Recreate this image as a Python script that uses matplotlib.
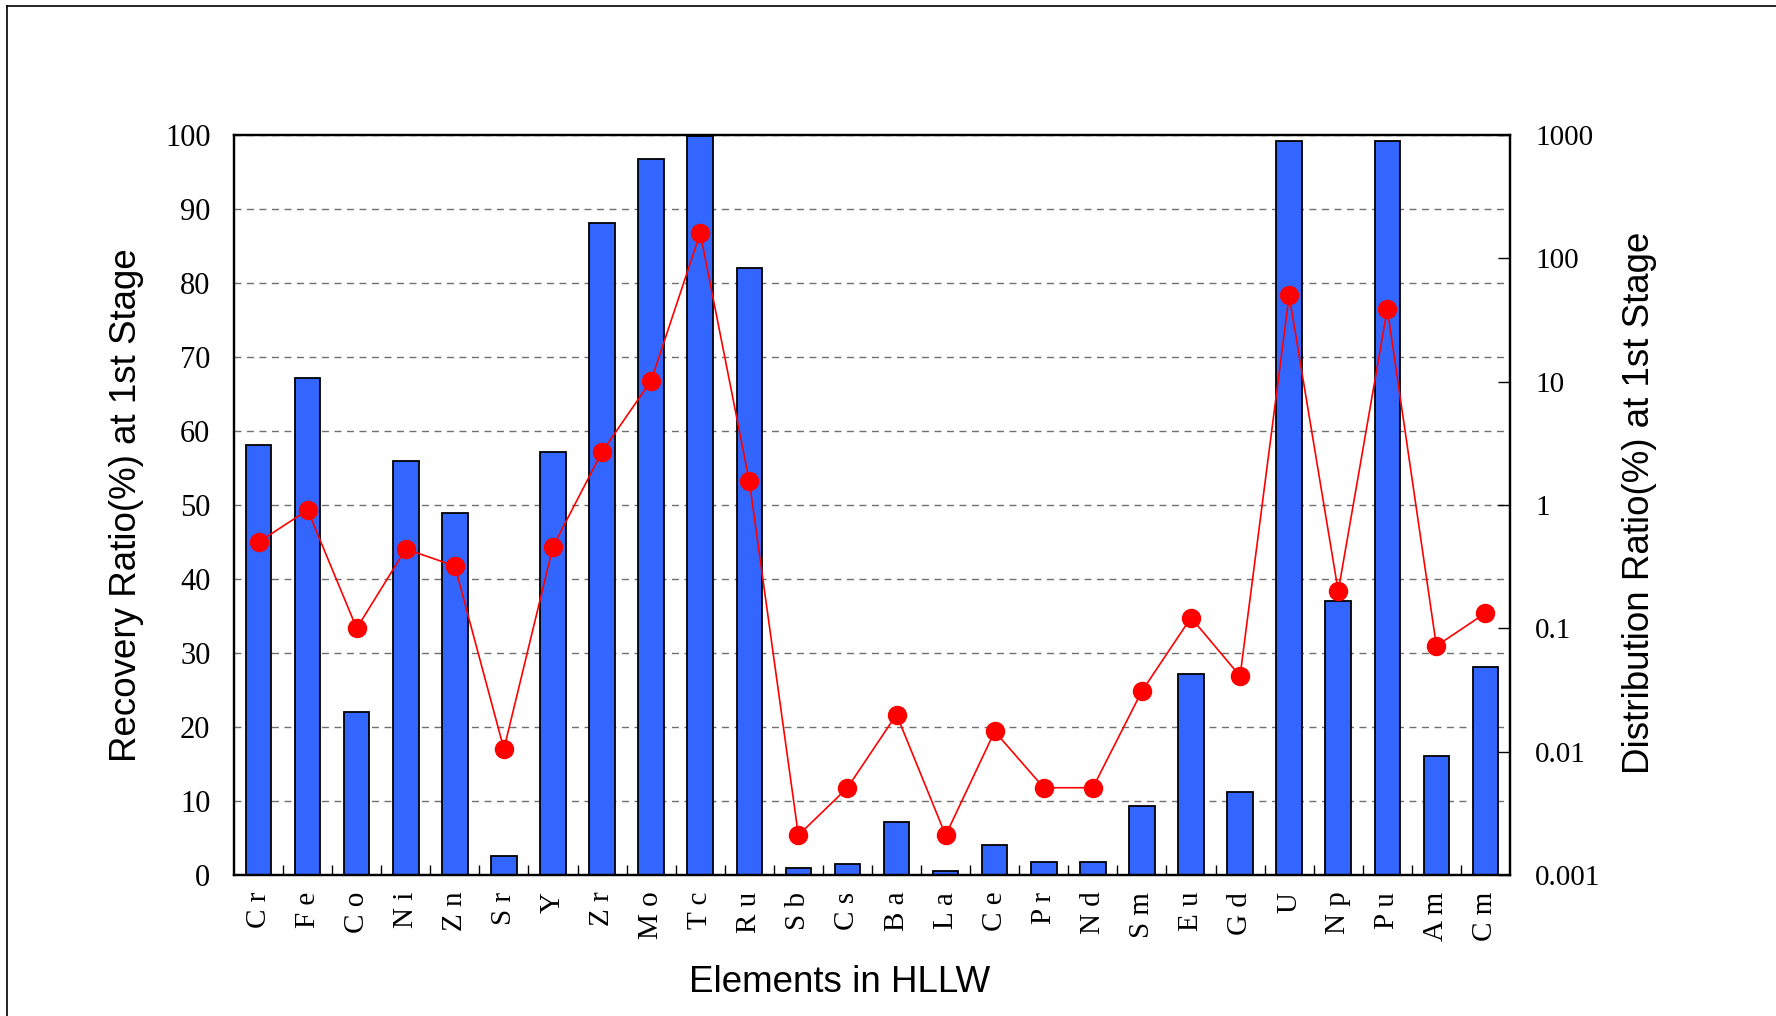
import numpy as np
import matplotlib
matplotlib.use('Agg')
import matplotlib.pyplot as plt
from matplotlib.lines import Line2D
from matplotlib.ticker import FixedLocator, NullLocator

# data
elements = ['Cr', 'Fe', 'Co', 'Ni', 'Zn', 'Sr', 'Y', 'Zr', 'Mo', 'Tc', 'Ru', 'Sb', 'Cs',
            'Ba', 'La', 'Ce', 'Pr', 'Nd', 'Sm', 'Eu', 'Gd', 'U', 'Np', 'Pu', 'Am', 'Cm']
recovery = [58.1, 67.1, 22.0, 56.0, 48.9, 2.6, 57.2, 88.1, 96.8, 99.8, 82.0, 0.9, 1.5,
            7.2, 0.6, 4.0, 1.8, 1.8, 9.3, 27.2, 11.2, 99.2, 37.0, 99.2, 16.1, 28.1]
distribution = [0.50, 0.91, 0.10, 0.44, 0.32, 0.0105, 0.46, 2.7, 10.2, 160, 1.56, 0.0021, 0.0051,
                0.020, 0.0021, 0.0146, 0.0051, 0.0051, 0.031, 0.122, 0.041, 50.0, 0.20, 38.9, 0.072, 0.133]
left_ticks = list(range(0, 101, 10))
right_ticks = [0.001, 0.01, 0.1, 1, 10, 100, 1000]
right_labels = ['0.001', '0.01', '0.1', '1', '10', '100', '1000']

W, H = 1776, 1016
fig = plt.figure(figsize=(W / 100, H / 100), dpi=100)
x0, x1, y0, y1 = 234, 1510, 135, 875
ax = fig.add_axes([x0 / W, 1 - y1 / H, (x1 - x0) / W, (y1 - y0) / H])

x = np.arange(len(elements))
ax.bar(x, recovery, width=0.52, color='#3366FF', edgecolor='black', linewidth=1.3, zorder=2)
ax.set_xlim(-0.5, len(elements) - 0.5)
ax.set_ylim(0, 100)
ax.set_yticks(left_ticks)
ax.set_yticklabels([str(t) for t in left_ticks], family='Liberation Serif', fontsize=22)
ax.set_axisbelow(True)
ax.yaxis.grid(True, linestyle=(0, (5, 4)), color='#707070', linewidth=1.0)
ax.tick_params(axis='y', direction='in', length=0, pad=17)

ax.set_xticks(x)
ax.set_xticklabels([' '.join(e) for e in elements], rotation=90,
                   family='Liberation Serif', fontsize=21)
ax.xaxis.set_minor_locator(FixedLocator(x[:-1] + 0.5))
ax.tick_params(axis='x', which='major', length=0, pad=12)
ax.tick_params(axis='x', which='minor', direction='in', length=7, width=1.0)

for sp in ax.spines.values():
    sp.set_linewidth(1.6)

ax2 = ax.twinx()
ax2.set_yscale('log')
ax2.set_ylim(0.001, 1000)
ax2.plot(x, distribution, color='red', linewidth=1.2, marker='o', markersize=13,
         markeredgecolor='red', markerfacecolor='red')
ax2.yaxis.set_major_locator(FixedLocator(right_ticks))
ax2.yaxis.set_minor_locator(NullLocator())
ax2.set_yticklabels(right_labels, family='Liberation Serif', fontsize=21)
ax2.tick_params(axis='y', direction='in', length=9, width=1.0, pad=18)
for sp in ax2.spines.values():
    sp.set_linewidth(1.6)

fig.text(127 / W, 0.503, 'Recovery Ratio(%) at 1st Stage', rotation=90, ha='center', va='center',
         family='Liberation Sans', fontsize=26.5)
fig.text(1639 / W, 0.505, 'Distribution Ratio(%) at 1st Stage', rotation=90, ha='center', va='center',
         family='Liberation Sans', fontsize=26.5)
fig.text(840 / W, 1 - 983 / H, 'Elements in HLLW', ha='center', va='center',
         family='Liberation Sans', fontsize=26.5)

# outer frame (top and left edges visible in the reference)
fig.add_artist(Line2D([7 / W, 7 / W], [0, 1 - 6 / H], transform=fig.transFigure, color='black', linewidth=1.2))
fig.add_artist(Line2D([7 / W, 1], [1 - 6 / H, 1 - 6 / H], transform=fig.transFigure, color='black', linewidth=1.2))

fig.savefig('out.png', dpi=100)
